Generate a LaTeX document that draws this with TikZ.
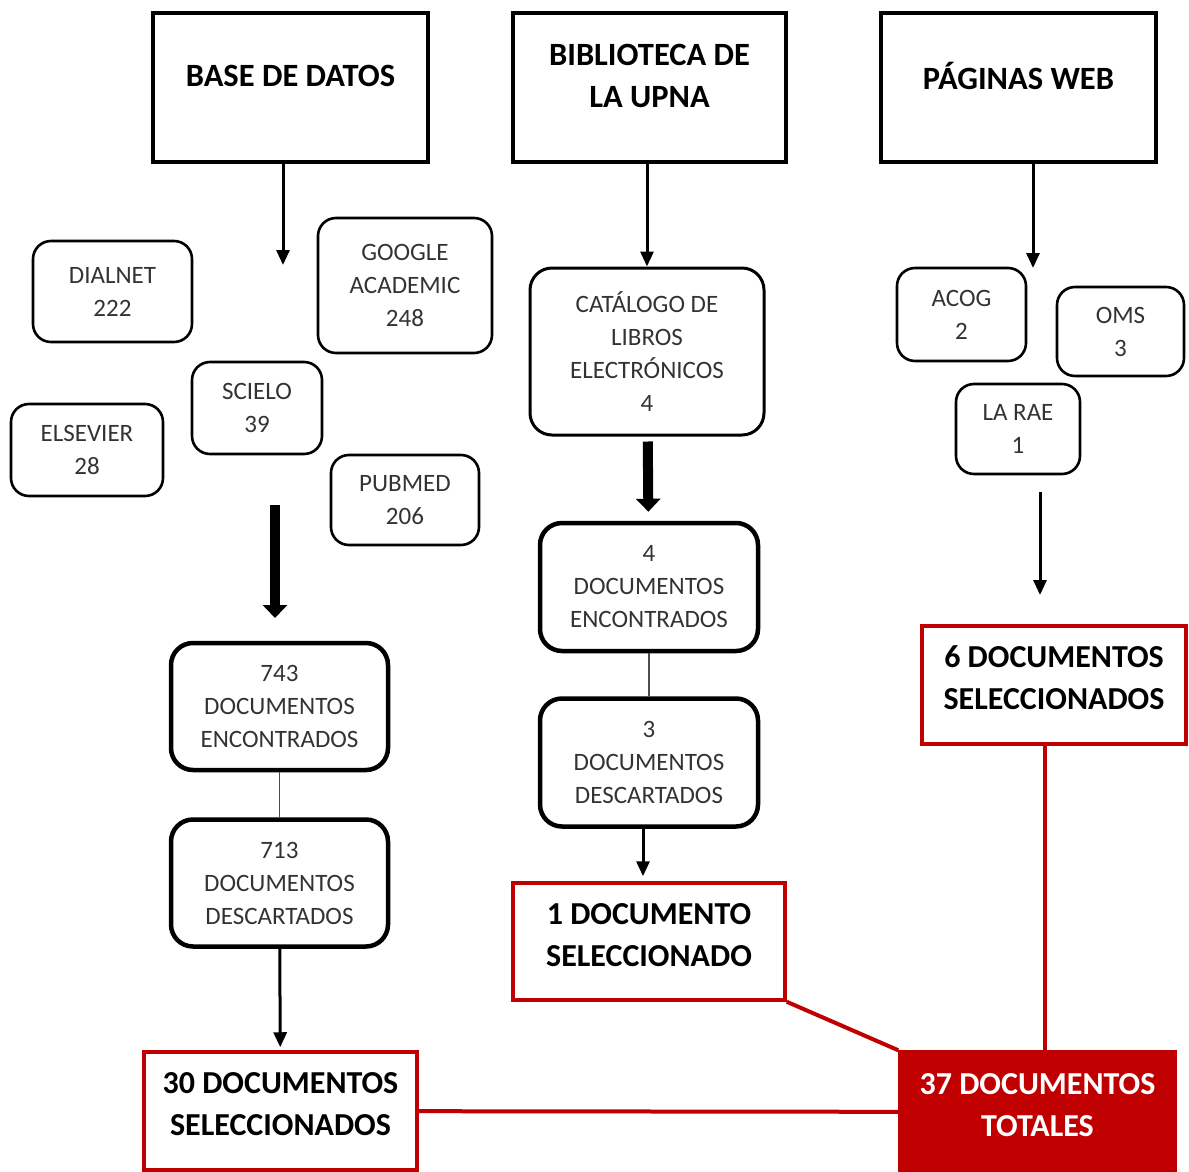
\documentclass[tikz,border=0pt]{standalone}
\usepackage{fontspec}
\setmainfont{Carlito}
\usetikzlibrary{arrows.meta,positioning}
\definecolor{selred}{HTML}{C00000}
\definecolor{txtgray}{HTML}{333333}

\begin{document}
\begin{tikzpicture}[x=1pt, y=-1pt, >=Triangle]
  \tikzstyle{srcbox}=[draw,line width=4pt,minimum width=275pt,minimum height=149pt,align=center,text depth=24pt,font=\fontsize{32.5}{42}\selectfont\bfseries]
  \tikzstyle{dbbox}=[draw,line width=2.6pt,rounded corners=18pt,align=center,text=txtgray,font=\fontsize{25}{33}\selectfont]
  \tikzstyle{stepbox}=[draw,line width=4.5pt,rounded corners=22pt,minimum width=217pt,minimum height=127pt,align=center,text=txtgray,font=\fontsize{25}{33}\selectfont]
  \tikzstyle{selbox}=[draw=selred,line width=3.5pt,minimum height=118pt,align=center,text depth=14pt,font=\fontsize{32}{42}\selectfont\bfseries]
  \tikzstyle{arr}=[->,line width=3pt,>={Triangle[length=15pt,width=13pt]}]
  \tikzstyle{bigarr}=[->,line width=10pt,>={Triangle[length=13pt,width=24pt]}]
  \tikzstyle{redline}=[draw=selred,line width=4pt]
  \useasboundingbox (0,0) rectangle (1189,1172);
  % sources
  \node[srcbox] (base) at (290.5,87.5) {BASE DE DATOS};
  \node[srcbox,minimum width=273pt] (bib) at (649.5,87.5) {BIBLIOTECA DE\\LA UPNA};
  \node[srcbox] (pag) at (1018.5,87.5) {PÁGINAS WEB};
  % bases de datos
  \node[dbbox,minimum width=159pt,minimum height=101pt] (dialnet) at (112.5,291.5) {DIALNET\\222};
  \node[dbbox,minimum width=174pt,minimum height=135pt] (google) at (405,285.5) {GOOGLE\\ACADEMIC\\248};
  \node[dbbox,minimum width=130pt,minimum height=92pt] (scielo) at (257,408) {SCIELO\\39};
  \node[dbbox,minimum width=152pt,minimum height=92pt] (elsevier) at (87,450) {ELSEVIER\\28};
  \node[dbbox,minimum width=148pt,minimum height=90pt] (pubmed) at (405,500) {PUBMED\\206};
  \node[stepbox] (enc1) at (279.5,706.5) {743\\DOCUMENTOS\\ENCONTRADOS};
  \node[stepbox,below=45pt of enc1] (desc1) {713\\DOCUMENTOS\\DESCARTADOS};
  \node[selbox,minimum width=273pt] (sel30) at (280.5,1111) {30 DOCUMENTOS\\SELECCIONADOS};
  % biblioteca
  \node[stepbox,line width=3pt,minimum width=234pt,minimum height=167pt] (cat) at (647,351.5) {CATÁLOGO DE\\LIBROS\\ELECTRÓNICOS\\4};
  \node[stepbox,minimum width=218pt,minimum height=128pt] (enc2) at (649,587) {4\\DOCUMENTOS\\ENCONTRADOS};
  \node[stepbox,minimum width=218pt,minimum height=128pt,below=43pt of enc2] (desc2) {3\\DOCUMENTOS\\DESCARTADOS};
  \node[selbox,minimum width=272pt,minimum height=117pt] (sel1) at (649,941.5) {1 DOCUMENTO\\SELECCIONADO};
  % paginas web
  \node[dbbox,minimum width=129pt,minimum height=93pt] (acog) at (961.5,314.5) {ACOG\\2};
  \node[dbbox,minimum width=127pt,minimum height=89pt] (oms) at (1120.5,331.5) {OMS\\3};
  \node[dbbox,minimum width=124pt,minimum height=90pt] (rae) at (1018,429) {LA RAE\\1};
  \node[selbox,minimum width=264pt] (sel6) at (1054,685) {6 DOCUMENTOS\\SELECCIONADOS};
  \node[selbox,fill=selred,text=white,minimum width=275pt,minimum height=120pt] (total) at (1037.5,1112) {37 DOCUMENTOS\\TOTALES};
  % free arrow ends
  \coordinate (baseEnd) at (283,265);
  \coordinate (bigTop) at (275,505);
  \coordinate (bigEnd) at (275,618);
  \coordinate (pagEnd) at (1033,268);
  \coordinate (raeTop) at (1040,492);
  \coordinate (raeEnd) at (1040,595);
  % connectors
  \draw[arr] (base.south -| baseEnd) -- (baseEnd);
  \draw[bigarr] (bigTop) -- (bigEnd);
  \draw[line width=1.5pt,draw=black!70] (enc1) -- (desc1);
  \draw[arr,shorten >=3pt] (desc1) -- (sel30);
  \draw[arr] (bib.south -| cat) -- (cat);
  \draw[bigarr,shorten <=5pt,shorten >=9pt] (cat) -- (enc2);
  \draw[line width=1.5pt,draw=black!70] (enc2) -- (desc2);
  \draw[arr,shorten >=5pt] (desc2.south -| 643,0) -- (sel1.north -| 643,0);
  \draw[arr] (pag.south -| pagEnd) -- (pagEnd);
  \draw[arr] (raeTop) -- (raeEnd);
  \draw[redline] (sel30) -- (total);
  \draw[redline] (sel1.south east) -- (total.north west);
  \draw[redline] (sel6.south -| 1045,0) -- (total.north -| 1045,0);
\end{tikzpicture}
\end{document}
